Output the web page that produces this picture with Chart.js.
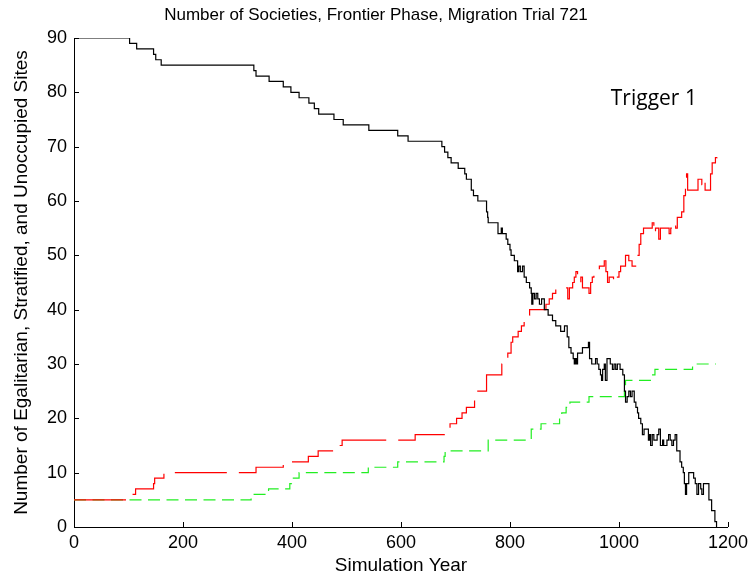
<!DOCTYPE html>
<html>
<head>
<meta charset="utf-8">
<script src="https://cdn.jsdelivr.net/npm/chart.js@4.4.1/dist/chart.umd.min.js"></script>
<style>
  html, body { margin: 0; padding: 0; background: #fff; }
  #wrap { width: 753px; height: 578px; }
</style>
</head>
<body>
<div id="wrap"><canvas id="chart" width="753" height="578"></canvas></div>
<script>
"use strict"
// Number of Societies, Frontier Phase, Migration Trial 721

// x ticks and y ticks
const xTicks = [0, 200, 400, 600, 800, 1000, 1200];
const yTicks = [0, 10, 20, 30, 40, 50, 60, 70, 80, 90];

// Unoccupied sites (black) - year where value changes, new value
const unoccYears = [0, 102, 115, 146, 150, 160, 330, 334, 358, 384, 398, 413, 431, 441, 449, 477, 494, 541, 594, 613,
  675, 680, 686, 692, 705, 717, 720, 729, 733, 741, 757, 759, 760, 778, 784, 786, 793, 796, 800, 802, 808, 814, 816, 819,
  823, 826, 830, 836, 839, 840, 842, 845, 848, 851, 854, 858, 863, 870, 878, 884, 893, 900, 905, 908, 912, 916, 918, 920,
  922, 924, 933, 944, 946, 950, 957, 960, 963, 966, 968, 970, 973, 975, 978, 984, 988, 991, 994, 997, 1002, 1007, 1010,
  1012, 1015, 1018, 1021, 1024, 1028, 1031, 1034, 1036, 1040, 1043, 1046, 1052, 1054, 1056, 1058, 1061, 1064, 1070, 1073,
  1076, 1080, 1082, 1088, 1091, 1094, 1097, 1100, 1103, 1106, 1112, 1115, 1118, 1120, 1122, 1124, 1128, 1134, 1137, 1140,
  1143, 1146, 1150, 1152, 1155, 1162, 1165, 1170, 1176, 1179];
const unoccValues = [90, 89, 88, 87, 86, 85, 84, 83, 82, 81, 80, 79, 78, 77, 76, 75, 74, 73, 72, 71,
  70, 69, 68, 67, 66, 65, 64, 62, 61, 60, 58, 57, 56, 54, 55, 54, 53, 52, 51, 50, 49, 47, 48, 47,
  48, 46, 45, 44, 43, 41, 43, 42, 43, 42, 41, 42, 40, 39, 38, 37, 36, 37, 35, 33, 32, 31, 30, 31,
  30, 32, 33, 34, 31, 30, 31, 30, 29, 28, 27, 29, 30, 27, 31, 30, 29, 30, 29, 30, 29, 28, 25,
  23, 24, 25, 24, 25, 23, 22, 21, 20, 19, 17, 18, 18, 16, 17, 15, 17, 16, 17, 18,
  15, 16, 15, 16, 17, 16, 15, 16, 17, 14, 12, 11, 10, 8, 6, 8, 10, 10, 9, 8,
  6, 8, 7, 6, 8, 8, 5, 3, 1, 0];

// Stratified (red)
const stratYears = [0, 105, 113, 146, 148, 165, 334, 384, 430, 448, 477, 492, 626, 684, 690, 702, 712, 720, 735, 741,
  757, 785, 796, 802, 805, 815, 821, 826, 830, 836, 866, 872, 878, 884, 906, 909, 915, 918, 921, 924, 930, 933, 945, 948,
  951, 954, 964, 973, 976, 979, 982, 990, 994, 1000, 1003, 1012, 1018, 1024, 1035, 1037, 1040, 1045, 1061, 1064, 1067,
  1073, 1076, 1092, 1095, 1101, 1104, 1107, 1115, 1119, 1122, 1124, 1126, 1145, 1152, 1155, 1158, 1168, 1171, 1177, 1180];
const stratValues = [5, 6, 7, 8, 9, 10, 11, 12, 13, 14, 15, 16, 17, 18, 19, 20, 21, 22, 24, 25,
  28, 30, 32, 34, 35, 36, 37, 38, 39, 40, 41, 42, 43, 44, 42, 44, 45, 46, 47, 45, 46, 44, 43, 45,
  46, 47, 48, 49, 47, 45, 46, 45, 46, 47, 48, 50, 49, 48, 50, 52, 54, 55, 56, 54, 55,
  53, 55, 54, 55, 56, 55, 57, 58, 61, 63, 65, 62, 64, 63, 64, 62, 65, 67, 68, 69];

// Egalitarian (green, dashed)
const egalYears = [0, 325, 357, 396, 399, 413, 540, 594, 679, 681, 760, 839, 857, 891, 895, 903, 910, 945, 1010, 1012,
  1060, 1066, 1135, 1178];
const egalValues = [5, 6, 7, 8, 9, 10, 11, 12, 13, 14, 16, 18, 19, 20, 21, 22, 23, 24, 26, 27,
  28, 29, 30, 30];

function toPoints(xs, ys) {
    return xs.map((x, i) => ({x: x, y: ys[i]}));
}

const fontAxis = "'Liberation Sans', Arial, sans-serif";

// egna saker: inåtvända ticks, titel, text "Trigger 1"
const extras = {
    id: 'extras',
    afterDraw(chart) {
        const ctx = chart.ctx;
        const xs = chart.scales.x;
        const ys = chart.scales.y;
        const area = chart.chartArea;
        ctx.save();
        ctx.strokeStyle = '#000';
        ctx.lineWidth = 1;
        ctx.beginPath();
        xTicks.forEach(v => {
            const px = Math.round(xs.getPixelForValue(v)) + 0.5;
            ctx.moveTo(px, area.bottom);
            ctx.lineTo(px, area.bottom - 5);
        });
        yTicks.forEach(v => {
            const py = Math.round(ys.getPixelForValue(v)) + 0.5;
            ctx.moveTo(area.left, py);
            ctx.lineTo(area.left + 5, py);
        });
        ctx.stroke();

        ctx.fillStyle = '#000';
        ctx.font = "17px " + fontAxis;
        ctx.textAlign = 'center';
        ctx.textBaseline = 'middle';
        ctx.fillText('Number of Societies, Frontier Phase, Migration Trial 721', 376, 15);

        ctx.font = "21px 'Open Sans', sans-serif";
        ctx.textAlign = 'left';
        ctx.fillText('Trigger 1', xs.getPixelForValue(985), ys.getPixelForValue(78.7));
        ctx.restore();
    }
};

const ctx = document.getElementById('chart').getContext('2d');
new Chart(ctx, {
    type: 'line',
    data: {
        datasets: [
            {
                label: 'Unoccupied',
                data: toPoints(unoccYears, unoccValues),
                borderColor: '#000000',
                borderWidth: 1.2,
                stepped: 'before',
                pointRadius: 0
            },
            {
                label: 'Stratified',
                data: toPoints(stratYears, stratValues),
                borderColor: '#ff0000',
                borderWidth: 1.2,
                borderDash: [52, 12],
                stepped: 'before',
                pointRadius: 0
            },
            {
                label: 'Egalitarian',
                data: toPoints(egalYears, egalValues),
                borderColor: '#22ee22',
                borderWidth: 1.2,
                borderDash: [12, 6.5],
                stepped: 'before',
                pointRadius: 0
            }
        ]
    },
    options: {
        responsive: false,
        animation: false,
        layout: { padding: { left: 0, right: 22, top: 38, bottom: 0 } },
        plugins: {
            legend: { display: false },
            tooltip: { enabled: false },
            title: { display: false }
        },
        scales: {
            x: {
                type: 'linear',
                min: 0,
                max: 1200,
                afterFit(scale) { scale.height = 51; },
                grid: { display: false, drawTicks: false },
                border: { display: true, color: '#000', width: 1 },
                ticks: {
                    stepSize: 200,
                    padding: 5,
                    color: '#000',
                    font: { family: fontAxis, size: 18 },
                    maxRotation: 0,
                    callback: v => String(v)
                },
                title: {
                    display: true,
                    text: 'Simulation Year',
                    color: '#000',
                    font: { family: fontAxis, size: 19 },
                    padding: { top: 0, bottom: 1 }
                }
            },
            y: {
                min: 0,
                max: 90,
                afterFit(scale) { scale.width = 74; },
                grid: { display: false, drawTicks: false },
                border: { display: true, color: '#000', width: 1 },
                ticks: {
                    stepSize: 10,
                    padding: 7,
                    color: '#000',
                    font: { family: fontAxis, size: 18 },
                    callback: v => String(v)
                },
                title: {
                    display: true,
                    text: 'Number of Egalitarian, Stratified, and Unoccupied Sites',
                    color: '#000',
                    font: { family: fontAxis, size: 19 },
                    padding: { top: 10, bottom: 0 }
                }
            }
        }
    },
    plugins: [extras]
});
</script>
</body>
</html>
